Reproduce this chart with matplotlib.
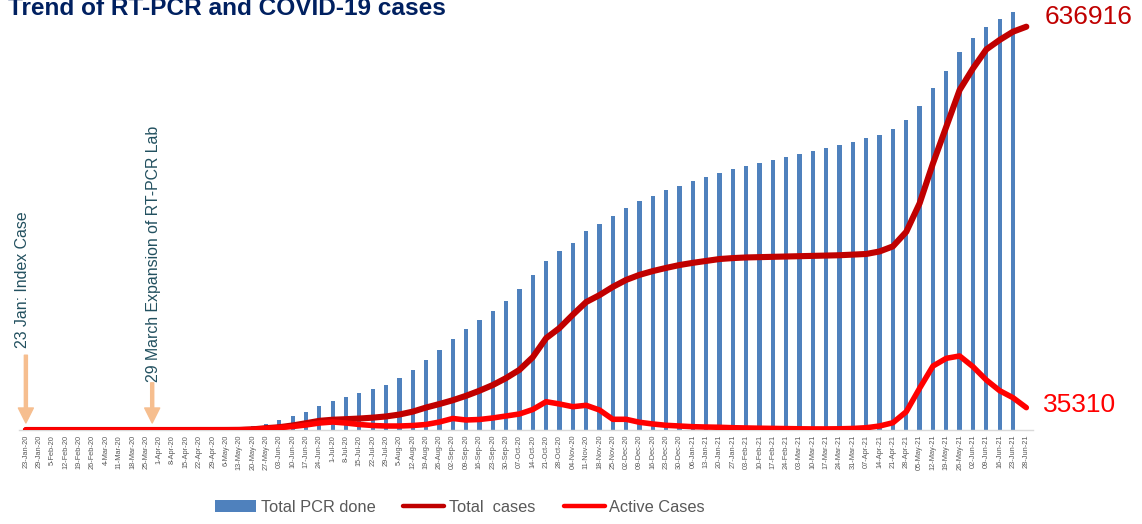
import matplotlib
matplotlib.use("Agg")
import matplotlib.pyplot as plt
from matplotlib.patches import Patch
from matplotlib.lines import Line2D
import numpy as np

dates = ["23-Jan-20", "29-Jan-20", "5-Feb-20", "12-Feb-20", "19-Feb-20", "26-Feb-20", "4-Mar-20",
         "11-Mar-20", "18-Mar-20", "25-Mar-20", "1-Apr-20", "8-Apr-20", "15-Apr-20", "22-Apr-20",
         "29-Apr-20", "6-May-20", "13-May-20", "20-May-20", "27-May-20", "03-Jun-20", "10-Jun-20",
         "17-Jun-20", "24-Jun-20", "1-Jul-20", "8-Jul-20", "15-Jul-20", "22-Jul-20", "29-Jul-20",
         "5-Aug-20", "12-Aug-20", "19-Aug-20", "26-Aug-20", "02-Sep-20", "09-Sep-20", "16-Sep-20",
         "23-Sep-20", "30-Sep-20", "07-Oct-20", "14-Oct-20", "21-Oct-20", "28-Oct-20", "04-Nov-20",
         "11-Nov-20", "18-Nov-20", "25-Nov-20", "02-Dec-20", "09-Dec-20", "16-Dec-20", "23-Dec-20",
         "30-Dec-20", "06-Jan-21", "13-Jan-21", "20-Jan-21", "27-Jan-21", "03-Feb-21", "10-Feb-21",
         "17-Feb-21", "24-Feb-21", "03-Mar-21", "10-Mar-21", "17-Mar-21", "24-Mar-21", "31-Mar-21",
         "07-Apr-21", "14-Apr-21", "21-Apr-21", "28-Apr-21", "05-May-21", "12-May-21", "19-May-21",
         "26-May-21", "02-Jun-21", "09-Jun-21", "16-Jun-21", "23-Jun-21", "28-Jun-21"]

total_pcr = [0, 0, 0, 0, 0, 0, 0, 0, 0, 0, 0, 0, 0, 0, 3000, 6000, 15000,
             40000, 60000, 100000, 140000, 180000, 240000, 290000, 330000, 370000, 410000,
             450000, 520000, 600000, 700000, 800000, 910000, 1010000, 1100000, 1190000,
             1290000, 1410000, 1550000, 1690000, 1790000, 1870000, 1990000, 2060000, 2140000,
             2220000, 2290000, 2340000, 2400000, 2440000, 2490000, 2530000, 2570000, 2610000,
             2640000, 2670000, 2700000, 2730000, 2760000, 2790000, 2820000, 2850000, 2880000,
             2920000, 2950000, 3010000, 3100000, 3240000, 3420000, 3590000, 3780000, 3920000,
             4030000, 4110000, 4180000, np.nan]

total_cases = [1, 1, 1, 1, 1, 1, 1, 1, 1, 3, 5, 9, 16, 45, 57, 100, 250,
               1000, 2900, 4400, 7200, 10700, 14500, 16200, 17100, 18100, 19500, 21400,
               24400, 29000, 35500, 41000, 47000, 54000, 62000, 71000, 82000, 95000, 115000,
               145000, 161000, 182000, 202000, 213000, 226000, 237000, 245000, 251000, 256000,
               260500, 264000, 267000, 270000, 271500, 272500, 273000, 273500, 274000, 274500,
               275000, 275500, 276000, 277000, 278000, 282000, 290000, 313000, 358000, 421000,
               479000, 537000, 571000, 601000, 616000, 629000, 636916]

active_cases = [1, 1, 1, 1, 1, 1, 1, 1, 1, 3, 5, 8, 14, 40, 50, 80, 230,
                950, 2400, 3900, 5500, 7900, 11000, 12600, 11000, 8700, 7100, 6300, 6300,
                7100, 8700, 12600, 18200, 15800, 16600, 19000, 22100, 25300, 32400, 44700,
                41100, 36800, 39000, 31600, 16900, 16900, 12200, 9500, 7400, 6300, 5200, 4700,
                4300, 3600, 3200, 2800, 2500, 2200, 1900, 1700, 1700, 1900, 2400, 3600, 6300,
                11500, 28900, 65900, 101000, 113200, 116900, 100000, 79000, 62100, 51000, 35310]

W, H = 1142, 524
fig = plt.figure(figsize=(W / 100, H / 100), dpi=100)
ax = fig.add_axes([19.2 / W, 94 / H, 1013.8 / W, 425 / H])
ax2 = ax.twinx()

x = np.arange(len(dates))
ax.bar(x, total_pcr, width=0.32, color="#4F81BD", zorder=2)
ax.set_xlim(-0.5, len(dates) - 0.5)
ax.set_ylim(0, 4250000)
ax2.set_ylim(0, 636916 * 425 / 403.3)

ax2.plot(x, total_cases, color="#C00000", lw=4.4, solid_capstyle="round", solid_joinstyle="round")
ax2.plot(x, active_cases, color="#FF0000", lw=4.0, solid_capstyle="round", solid_joinstyle="round")

for a in (ax, ax2):
    for s in ("top", "left", "right"):
        a.spines[s].set_visible(False)
    a.set_yticks([])
ax.spines["bottom"].set_color("#D9D9D9")
ax.spines["bottom"].set_linewidth(1.0)
ax2.spines["bottom"].set_visible(False)

font = "Liberation Sans"
ax.set_xticks(x)
ax.set_xticklabels(dates, rotation=90, fontsize=5.3, color="#595959", family=font)
ax.tick_params(axis="x", length=0, pad=3.5)

# end-value labels
ax2.annotate(f"{total_cases[-1]}", xy=(x[-1], total_cases[-1]), xytext=(18, 10),
             textcoords="offset pixels", color="#C00000", fontsize=19,
             family=font, va="center", ha="left", annotation_clip=False)
ax2.annotate(f"{active_cases[-1]}", xy=(x[-1], active_cases[-1]), xytext=(17, 3),
             textcoords="offset pixels", color="#FF0000", fontsize=19,
             family=font, va="center", ha="left", annotation_clip=False)

# event notes
trans = ax.get_xaxis_transform()
arrow_kw = dict(facecolor="#F6BE8F", edgecolor="#F6BE8F", width=2.2, headwidth=10.8,
                headlength=10.8, shrink=0)
ax.annotate("", xy=(0, 0.0165), xytext=(0, 0.176), xycoords=trans, textcoords=trans,
            arrowprops=arrow_kw)
ax.annotate("", xy=(9.47, 0.0165), xytext=(9.47, 0.111), xycoords=trans, textcoords=trans,
            arrowprops=arrow_kw)
ax.text(-0.25, 0.193, "23 Jan: Index Case", transform=trans, rotation=90, ha="center",
        va="bottom", fontsize=11.4, color="#22505F", family=font)
ax.text(9.56, 0.113, "29 March Expansion of RT-PCR Lab", transform=trans, rotation=90,
        ha="center", va="bottom", fontsize=11.4, color="#22505F", family=font)

# title (partly cut at the top edge, as in the source)
fig.text(8 / W, 1 - 15 / H, "Trend of RT-PCR and COVID-19 cases", fontsize=17.6,
         fontweight="bold", color="#002060", family=font, va="baseline", ha="left")

handles = [Patch(facecolor="#4F81BD"),
           Line2D([], [], color="#C00000", lw=3.2, solid_capstyle="round"),
           Line2D([], [], color="#FF0000", lw=3.2, solid_capstyle="round")]
fig.legend(handles, ["Total PCR done", "Total  cases", "Active Cases"], loc="center",
           bbox_to_anchor=(460 / W, 17 / H), ncol=3, frameon=False,
           prop={"family": font, "size": 11.8}, labelcolor="#595959",
           handlelength=2.5, handletextpad=0.3, columnspacing=1.7, handleheight=0.75)

fig.savefig("out.png", dpi=100)
